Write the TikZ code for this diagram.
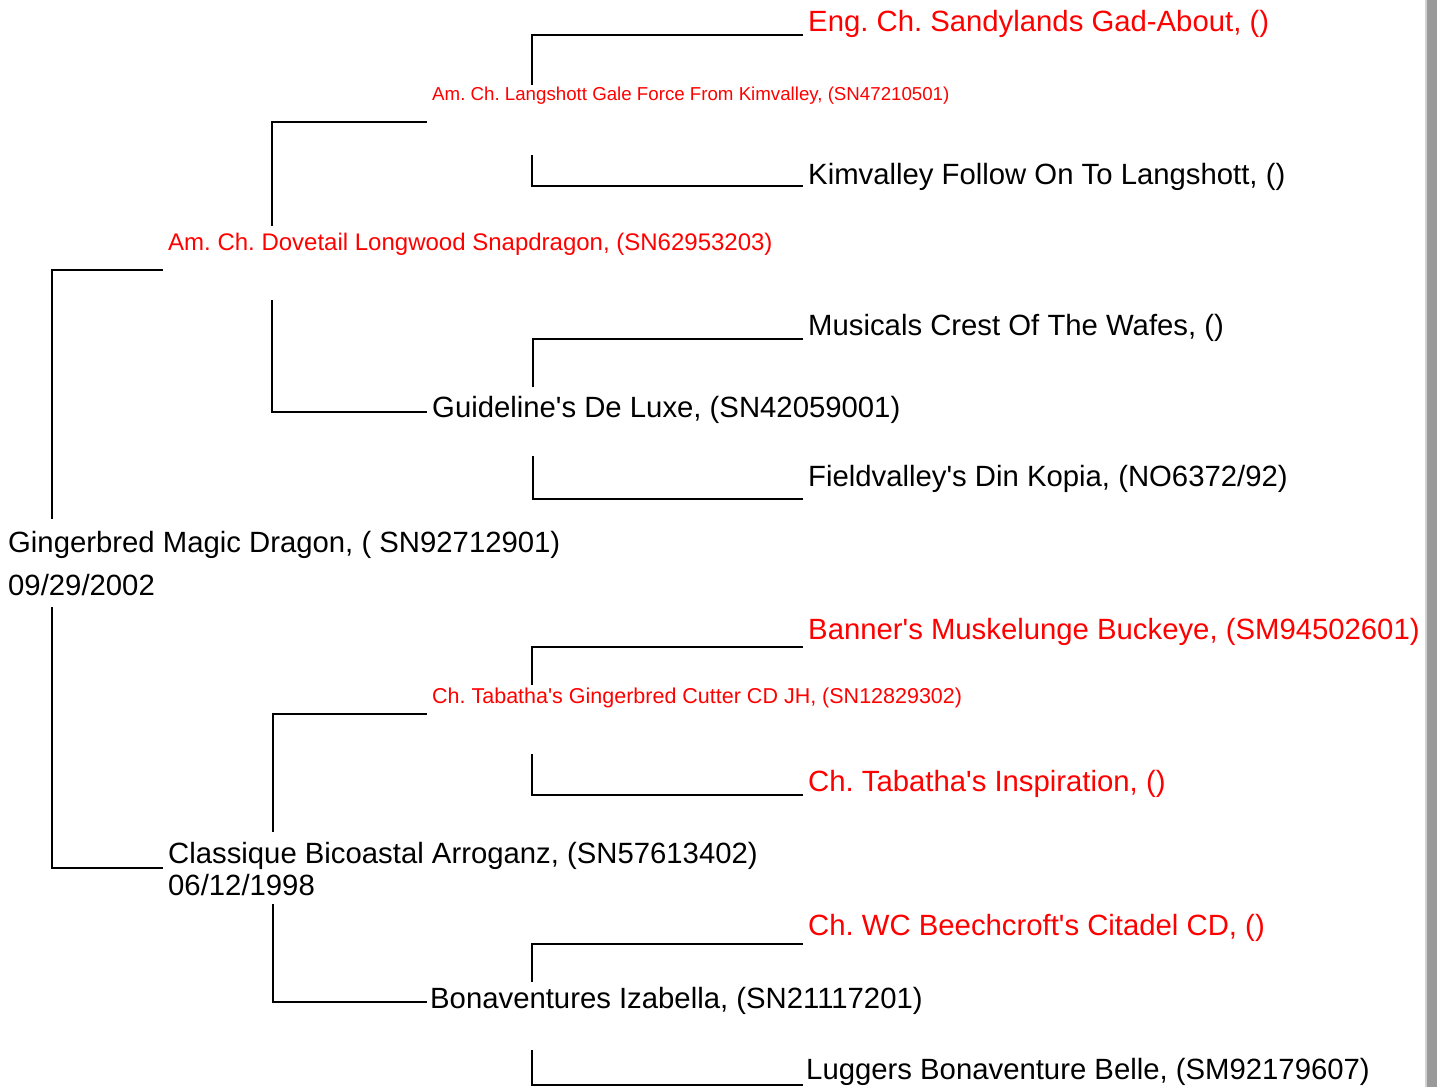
\documentclass[tikz,border=0pt]{standalone}
\usepackage{fontspec}
\setmainfont{Liberation Sans}
\usepackage{xcolor}
\usepackage{tikz}
\definecolor{champ}{HTML}{FF0000}
\definecolor{ink}{HTML}{000000}
\definecolor{barlight}{HTML}{D2D2D2}
\definecolor{bardark}{HTML}{9A9A9A}
\newcommand\ap{\textquotesingle}
\frenchspacing
\tikzset{
  ln/.style={line width=2.2pt, draw=ink},
  big/.style={anchor=base west, inner sep=0pt, text=ink, font=\fontsize{29.3}{34}\selectfont},
  main/.style={big, font=\fontsize{29.3}{34}\selectfont},
  mid/.style={big, font=\fontsize{24}{28}\selectfont},
  small/.style={big, font=\fontsize{18.7}{22}\selectfont},
  smallb/.style={big, font=\fontsize{21.5}{25}\selectfont},
  red/.style={text=champ},
}

\begin{document}
\begin{tikzpicture}[x=1pt, y=-1pt]
  \path[use as bounding box] (0,0) rectangle (1437,1087);
  \fill[barlight] (1425,0) rectangle (1437,1087);
  \fill[bardark] (1427,0) rectangle (1437,1087);

  % dog and parents
  \node[main] (dog) at (8,552) {Gingerbred Magic Dragon, ( SN92712901)};
  \node[main] (dogdob) at (8,595) {09/29/2002};
  \node[mid, red] (sire) at (168,250) {Am. Ch. Dovetail Longwood Snapdragon, (SN62953203)};
  \node[big] (dam) at (168,863) {Classique Bicoastal Arroganz, (SN57613402)};
  \node[big] (damdob) at (168,895) {06/12/1998};

  % grandparents
  \node[small, red] (ss) at (432,100) {Am. Ch. Langshott Gale Force From Kimvalley, (SN47210501)};
  \node[big] (sd) at (432,417) {Guideline\ap s De Luxe, (SN42059001)};
  \node[smallb, red] (ds) at (432,703) {Ch. Tabatha\ap s Gingerbred Cutter CD JH, (SN12829302)};
  \node[big] (dd) at (430,1008) {Bonaventures Izabella, (SN21117201)};

  % great-grandparents
  \node[big, red] (sss) at (808,31) {Eng. Ch. Sandylands Gad-About, ()};
  \node[big] (ssd) at (808,184) {Kimvalley Follow On To Langshott, ()};
  \node[big] (sds) at (808,335) {Musicals Crest Of The Wafes, ()};
  \node[big] (sdd) at (808,486) {Fieldvalley\ap s Din Kopia, (NO6372/92)};
  \node[big, red] (dss) at (808,639) {Banner\ap s Muskelunge Buckeye, (SM94502601)};
  \node[big, red] (dsd) at (808,791) {Ch. Tabatha\ap s Inspiration, ()};
  \node[big, red] (dds) at (808,935) {Ch. WC Beechcroft\ap s Citadel CD, ()};
  \node[big] (ddd) at (806,1079) {Luggers Bonaventure Belle, (SM92179607)};

  % brackets
  \foreach \n/\x/\ya/\xe/\yb in {
      dogS/52/519/163/270, dogD/52/607/163/868,
      sireS/272/226/427/122, sireD/272/300/427/412,
      damS/273/832/427/714, damD/273/904/427/1002,
      ssS/532/85/803/35, ssD/532/155/803/186,
      sdS/533/387/803/339, sdD/533/456/803/499,
      dsS/532/685/803/647, dsD/532/754/803/795,
      ddS/532/982/803/944, ddD/532/1050/803/1085} {
    \coordinate (\n-a) at (\x,\ya);
    \coordinate (\n-b) at (\xe,\yb);
    \draw[ln] (\n-a) |- (\n-b);
  }
\end{tikzpicture}
\end{document}
